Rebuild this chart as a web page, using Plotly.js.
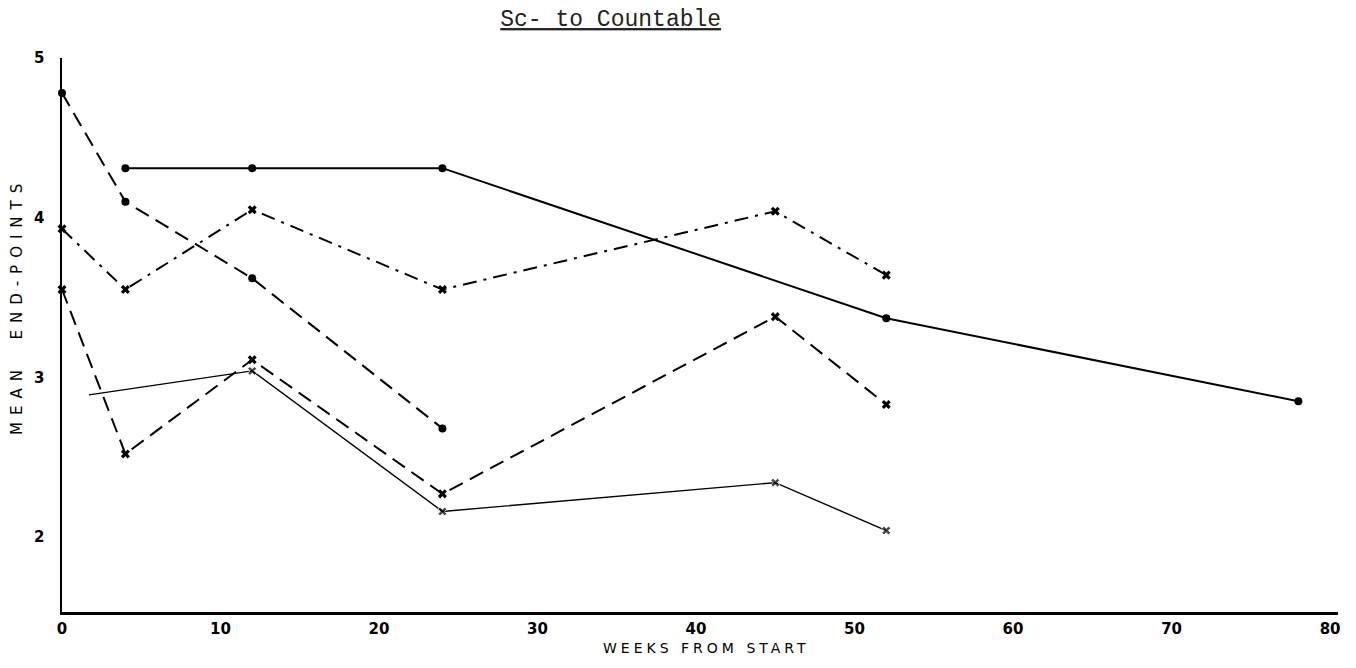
<!DOCTYPE html>
<html>
<head>
<meta charset="utf-8">
<script src="https://cdn.plot.ly/plotly-3.0.1.min.js"></script>
<style>
  html, body { margin: 0; padding: 0; background: #fff; }
  #chart { width: 1356px; height: 668px; }
  .annotation[data-index="0"] .annotation-text { letter-spacing: 7px; }
  .annotation[data-index="1"] .annotation-text { letter-spacing: 4px; }
</style>
</head>
<body>
<div id="chart"></div>
<script>
// Weeks from start and mean end-points for each curve
const weeksA = [4, 12, 24, 52, 78];
const valsA  = [4.31, 4.31, 4.31, 3.37, 2.85];

const weeksB = [0, 4, 12, 24];
const valsB  = [4.78, 4.10, 3.62, 2.68];

const weeksC = [0, 4, 12, 24, 45, 52];
const valsC  = [3.93, 3.55, 4.05, 3.55, 4.04, 3.64];

const weeksD = [0, 4, 12, 24, 45, 52];
const valsD  = [3.55, 2.52, 3.11, 2.27, 3.38, 2.83];

const weeksE = [1.7, 12, 24, 45, 52];
const valsE  = [2.89, 3.04, 2.16, 2.34, 2.04];

const xTicks = [0, 10, 20, 30, 40, 50, 60, 70, 80];
const yTicks = [2, 3, 4, 5];

const titleText = "Sc- to Countable";
const xTitle = "WEEKS FROM START";
const yTitle = "MEAN  END-POINTS";

const ink = "#000";

const traces = [
  { x: weeksA, y: valsA, mode: "lines+markers",
    line: { color: ink, width: 2 },
    marker: { symbol: "circle", size: 8, color: ink } },
  { x: weeksB, y: valsB, mode: "lines+markers",
    line: { color: ink, width: 2, dash: "15px,8px" },
    marker: { symbol: "circle", size: 8, color: ink } },
  { x: weeksC, y: valsC, mode: "lines+markers",
    line: { color: ink, width: 2, dash: "14px,7px,3px,7px" },
    marker: { symbol: "x", size: 8, color: ink } },
  { x: weeksD, y: valsD, mode: "lines+markers",
    line: { color: ink, width: 2, dash: "15px,8px" },
    marker: { symbol: "x", size: 8, color: ink } },
  { x: weeksE, y: valsE, mode: "lines+markers",
    line: { color: ink, width: 1.4 },
    marker: { symbol: "x", size: weeksE.map((w, i) => i === 0 ? 0 : 8), color: ink } }
];
traces.forEach(t => { t.cliponaxis = false; t.hoverinfo = "x+y"; });

const layout = {
  width: 1356, height: 668,
  margin: { l: 62, r: 18, t: 58, b: 56 },
  paper_bgcolor: "#fff", plot_bgcolor: "#fff",
  showlegend: false,
  title: {
    text: "<u>" + titleText + "</u>",
    font: { family: "Liberation Mono, Courier New, monospace", size: 23, color: "#222" },
    x: 0.43, xanchor: "center", xref: "paper",
    y: 1 - 18 / 668, yanchor: "middle", yref: "container"
  },
  xaxis: {
    range: [0, 80.5],
    tickvals: xTicks, ticktext: xTicks.map(String),
    showline: true, linecolor: ink, linewidth: 2.5,
    showgrid: false, zeroline: false, ticks: "",
    ticklabelstandoff: 1,
    tickfont: { family: "DejaVu Sans", size: 15, weight: "bold", color: ink }
  },
  yaxis: {
    range: [1.53, 5.0],
    tickvals: yTicks, ticktext: yTicks.map(String),
    showline: true, linecolor: ink, linewidth: 2.5,
    showgrid: false, zeroline: false, ticks: "",
    ticklabelstandoff: 12,
    tickfont: { family: "DejaVu Sans", size: 15, weight: "bold", color: ink }
  },
  annotations: [{
    text: yTitle, textangle: -90, showarrow: false,
    xref: "paper", yref: "paper",
    x: (17 - 62) / 1276, y: (612 - 306) / 554,
    xanchor: "center", yanchor: "middle",
    font: { family: "DejaVu Sans", size: 15, color: ink }
  }, {
    text: xTitle, showarrow: false,
    xref: "paper", yref: "paper",
    x: (706 - 62) / 1276, y: -(648 - 612) / 554,
    xanchor: "center", yanchor: "middle",
    font: { family: "DejaVu Sans", size: 14, color: ink }
  }]
};

Plotly.newPlot("chart", traces, layout, { displayModeBar: false, staticPlot: true });
</script>
</body>
</html>
